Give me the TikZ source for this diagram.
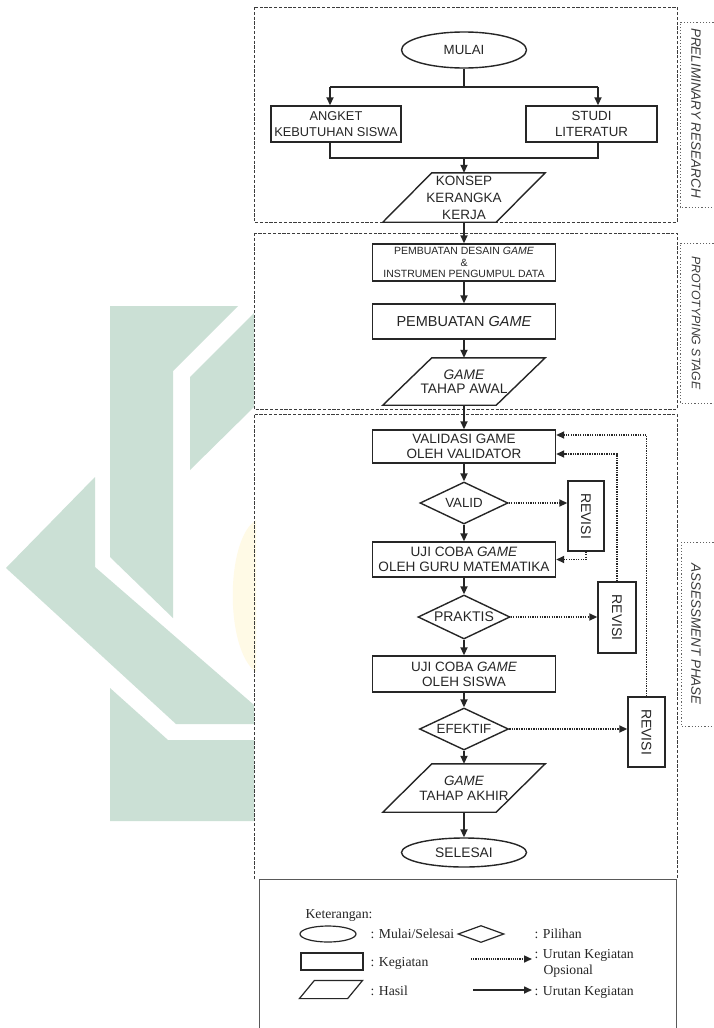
\documentclass[tikz,border=0pt]{standalone}
\usepackage{fontspec}
\setmainfont{Liberation Serif}
\setsansfont{Liberation Sans}
\usetikzlibrary{shapes.geometric,arrows.meta,calc}
\definecolor{wm}{RGB}{203,224,213}
\definecolor{wmy}{RGB}{255,250,230}
\definecolor{ink}{RGB}{38,38,38}
\definecolor{frame}{RGB}{60,60,60}
\newcommand{\drawpara}[2]{\draw[shp] ([xshift=#2]#1.north west) -- (#1.north east) -- ([xshift=-#2]#1.south east) -- (#1.south west) -- cycle;}
\newcommand{\nfs}[2]{\sffamily\fontsize{#1}{#2}\selectfont}
\begin{document}
\begin{tikzpicture}[x=1pt,y=-1pt,
  shp/.style={draw=ink, line width=1.4pt},
  txt/.style={text=ink, align=center, font=\nfs{13.3}{15.5}},
  box/.style={shp, rectangle, inner sep=0pt, txt},
  ghost/.style={rectangle, inner sep=0pt, txt},
  term/.style={shp, ellipse, inner sep=0pt, minimum width=125pt, txt},
  dia/.style={shp, diamond, inner sep=0pt},
  revbox/.style={shp, rectangle, inner sep=0pt, minimum height=70pt},
  line/.style={draw=ink, line width=1.8pt},
  flow/.style={line, -{Triangle[length=8pt,width=7pt]}},
  opt/.style={draw=ink, line width=1.8pt, dash pattern=on 1.3pt off 1.1pt, -{Triangle[length=8pt,width=7pt]}},
  dbox/.style={draw=frame, line width=0.9pt, dash pattern=on 3.2pt off 1.6pt},
  sbox/.style={draw=frame!80, line width=0.9pt, dash pattern=on 1.2pt off 2pt},
  slabel/.style={text=frame, font=\sffamily\itshape\fontsize{13.5}{15}\selectfont, rotate=-90},
  lg/.style={text=ink, font=\rmfamily\fontsize{13.7}{16}\selectfont},
  lgshp/.style={draw=ink, line width=1.2pt, inner sep=0pt}
]
\useasboundingbox (0,0) rectangle (714,1028);
\fill[white] (0,0) rectangle (714,1028);
\clip (0,0) rectangle (714,1028);

% watermark
\fill[wm] (110,306) -- (238,306) -- (173,371) -- (173,618) -- (110,557) -- cycle;
\fill[wm] (190,377) -- (254,313) -- (254,407) -- (190,470) -- cycle;
\fill[wm] (6,568) -- (95,477) -- (95,567) -- (254,705) -- (254,724) -- (176,724) -- cycle;
\fill[wm] (110,688) -- (168,740) -- (254,740) -- (254,821) -- (110,821) -- cycle;
\fill[wmy] (256,520) .. controls (225,540) and (225,650) .. (256,672) -- cycle;

% phase frames
\draw[dbox] (254,7) rectangle (677,222);
\draw[dbox] (254,233) rectangle (677,409);
\draw[dbox] (254,879) -- (254,414) -- (677,414) -- (677,879);

% side labels
\draw[sbox] (720,22) -- (680,22) -- (680,207) -- (720,207);
\draw[sbox] (720,243) -- (680,243) -- (680,403) -- (720,403);
\draw[sbox] (720,542) -- (681,542) -- (681,726) -- (720,726);
\node[slabel] (lab1) at (696,113) {PRELIMINARY RESEARCH};
\node[slabel, font=\sffamily\itshape\fontsize{12.3}{14}\selectfont] (lab2) at (696,323) {PROTOTYPING STAGE};
\node[slabel] (lab3) at (696,634) {ASSESSMENT PHASE};

% nodes
\node[term, minimum height=36pt] (mulai) at (464,50) {MULAI};
\node[box, minimum width=130pt, minimum height=36pt, font=\nfs{12.8}{16.5}] (angket) at (336,124) {ANGKET\\KEBUTUHAN SISWA};
\node[box, minimum width=131pt, minimum height=36pt, font=\nfs{13.3}{16.5}] (studi) at (591.5,124) {STUDI\\LITERATUR};
\node[ghost, minimum width=162pt, minimum height=49pt, font=\nfs{13.5}{17}] (konsep) at (464,197.5) {KONSEP\\KERANGKA\\KERJA};
\drawpara{konsep}{49pt}
\node[box, minimum width=183pt, minimum height=37pt, font=\nfs{10.5}{11.7}] (desain) at (464,262.5) {PEMBUATAN DESAIN \textit{GAME}\\\&\\INSTRUMEN PENGUMPUL DATA};
\node[box, minimum width=183pt, minimum height=35pt, font=\nfs{14.5}{16}] (pgame) at (464,321.5) {PEMBUATAN \textit{GAME}};
\node[ghost, minimum width=162pt, minimum height=47pt, font=\nfs{13.8}{13.5}] (awal) at (464,381.5) {\textit{GAME}\\TAHAP AWAL};
\drawpara{awal}{49pt}
\node[box, minimum width=183pt, minimum height=33pt, font=\nfs{13.5}{15}] (validasi) at (464,446.5) {VALIDASI GAME\\OLEH VALIDATOR};
\node[dia, minimum width=88pt, minimum height=42pt, label={[txt]center:VALID}] (valid) at (464,503) {};
\node[box, minimum width=183pt, minimum height=35pt, font=\nfs{13.6}{15}] (uji1) at (464,559.5) {UJI COBA \textit{GAME}\\OLEH GURU MATEMATIKA};
\node[dia, minimum width=92pt, minimum height=44pt, label={[txt, font=\nfs{14}{15}]center:PRAKTIS}] (praktis) at (464,617) {};
\node[box, minimum width=183pt, minimum height=36pt, font=\nfs{13.5}{15}] (uji2) at (464,674) {UJI COBA \textit{GAME}\\OLEH SISWA};
\node[dia, minimum width=89pt, minimum height=42pt, label={[txt]center:EFEKTIF}] (efektif) at (464,729) {};
\node[ghost, minimum width=162pt, minimum height=48pt, font=\nfs{13.5}{15}] (akhir) at (464,788) {\textit{GAME}\\TAHAP AKHIR};
\drawpara{akhir}{49pt}
\node[term, minimum height=29pt, font=\nfs{13.8}{15}] (selesai) at (464,852.5) {SELESAI};

\node[revbox, minimum width=36pt, label={[txt, rotate=-90, font=\nfs{14}{15}]center:REVISI}] (rev1) at (586,516) {};
\node[revbox, minimum width=38pt, minimum height=71pt, label={[txt, rotate=-90, font=\nfs{14}{15}]center:REVISI}] (rev2) at (617,617.5) {};
\node[revbox, minimum width=37pt, label={[txt, rotate=-90, font=\nfs{14}{15}]center:REVISI}] (rev3) at (646.5,732) {};

% main connectors
\coordinate (sL) at (330,87);
\coordinate (sR) at (598,87);
\coordinate (jL) at (330,158);
\coordinate (jR) at (598,158);
\draw[line] (mulai.south) -- (mulai.south |- sL);
\draw[line] (sL) -- (sR);
\draw[flow] (sL) -- (sL |- angket.north);
\draw[flow] (sR) -- (sR |- studi.north);
\draw[line] (jL |- angket.south) -- (jL) -- (jR) -- (jR |- studi.south);
\draw[flow] (jL -| konsep.north) -- (konsep.north);
\draw[flow] (konsep.south) -- (desain.north);
\draw[flow] (desain.south) -- (pgame.north);
\draw[flow] (pgame.south) -- (awal.north);
\draw[flow] (awal.south) -- (validasi.north);
\draw[flow] (validasi.south) -- (valid.north);
\draw[flow] (valid.south) -- (uji1.north);
\draw[flow] (uji1.south) -- (praktis.north);
\draw[flow] (praktis.south) -- (uji2.north);
\draw[flow] (uji2.south) -- (efektif.north);
\draw[flow] (efektif.south) -- (akhir.north);
\draw[flow] (akhir.south) -- (selesai.north);

% optional connectors
\draw[opt] (valid.east) -- (valid.east -| rev1.west);
\draw[opt] (rev1.south) |- (uji1.east);
\draw[opt] (praktis.east) -- (praktis.east -| rev2.west);
\draw[opt] (rev2.north) |- ($(validasi.east)+(0,7.5)$);
\draw[opt] (efektif.east) -- (efektif.east -| rev3.west);
\draw[opt] (rev3.north) |- ($(validasi.east)+(0,-11.5)$);

% legend
\draw[draw=frame!85, line width=0.9pt] (259,1035) -- (259,879) -- (676,879) -- (676,1035);
\node[lg, anchor=base west] (ket) at (302,918) {Keterangan:};
\node[lgshp, ellipse, minimum width=56pt, minimum height=16pt] (lgE) at (328,934) {};
\node[lg, anchor=base west] (lgEt) at (367,938) {: Mulai/Selesai};
\node[lgshp, diamond, minimum width=46pt, minimum height=17pt] (lgD) at (481,934) {};
\node[lg, anchor=base west] (lgDt) at (531,938) {: Pilihan};
\node[lgshp, rectangle, minimum width=62pt, minimum height=17pt] (lgR) at (332,961.5) {};
\node[lg, anchor=base west] (lgRt) at (367,966) {: Kegiatan};
\node[lgshp, draw=none, rectangle, minimum width=62pt, minimum height=17pt] (lgP) at (331,989.5) {};
\draw[draw=ink, line width=1.2pt] ([xshift=15pt]lgP.north west) -- (lgP.north east) -- ([xshift=-15pt]lgP.south east) -- (lgP.south west) -- cycle;
\node[lg, anchor=base west] (lgPt) at (367,995) {: Hasil};
\coordinate (oa1) at (471,959);
\coordinate (oa2) at (532,959);
\draw[draw=ink, line width=1.5pt, dash pattern=on 1.1pt off 1.1pt, -{Triangle[length=8pt,width=7pt]}] (oa1) -- (oa2);
\node[lg, anchor=base west] (lgOt) at (531,958) {: Urutan Kegiatan};
\node[lg, anchor=base west] (lgOt2) at (540,974) {Opsional};
\coordinate (sa1) at (473,990);
\coordinate (sa2) at (532,990);
\draw[draw=ink, line width=1.6pt, -{Triangle[length=8pt,width=7pt]}] (sa1) -- (sa2);
\node[lg, anchor=base west] (lgSt) at (531,995) {: Urutan Kegiatan};
\end{tikzpicture}
\end{document}
